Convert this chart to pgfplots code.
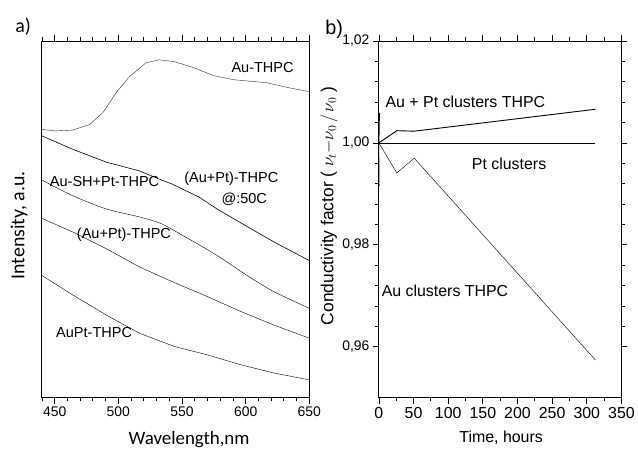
\documentclass[border=0pt]{standalone}
\usepackage{fontspec}
\setmainfont{Liberation Sans}
\newfontfamily\calib{Carlito}
\usepackage{pgfplots}
\pgfplotsset{compat=1.18}
\begin{document}
\begin{tikzpicture}
\draw[white] (0pt,0pt) rectangle (638pt,453pt);
% ---------------- left panel ----------------
\begin{axis}[scale only axis, anchor=south west, at={(42pt,53pt)}, width=269pt, height=359pt,
  xmin=440, xmax=650, ymin=0, ymax=359,
  xtick={450,500,...,650}, minor xtick={440,450,...,650}, ytick=\empty,
  tick pos=both, tick align=outside,
  major tick length=6pt, minor tick length=3.5pt,
  axis line style={line width=0.9pt},
  tick style={line width=0.8pt, black},
  /pgf/number format/assume math mode=true, clip=false,
  x tick label style={font=\fontsize{14}{14}\selectfont},
  cycle list={{black!80, line width=0.6pt, smooth, tension=0.55, mark=none}}]
\addplot coordinates {(440,270) (450.1,268.5) (464.2,269.3) (477.5,275) (487.9,287) (498.3,307) (508.7,323) (521.7,337) (532.1,340) (543.8,338.3) (559.4,332) (567.2,328) (575.0,324) (590.7,320) (616.4,317) (633.6,312) (650,308)};
\addplot coordinates {(440,263.5) (464.2,250) (490.7,237) (516.5,228.3) (532.1,220) (542.3,215) (563.3,202) (577.4,190) (599.8,173.3) (621.9,157) (650,138)};
\addplot coordinates {(440,219) (464.2,203.3) (490.5,190) (516.5,182) (532.1,176) (543.8,168.3) (577.4,143.3) (600.8,123.3) (621.9,107) (650,90)};
\addplot coordinates {(440,180.5) (464.4,166.7) (490.5,150) (516.5,131.7) (543.8,116) (569.6,102) (595.9,87) (621.9,73.3) (650,60)};
\addplot coordinates {(440,123) (464.4,103.3) (490.5,83.3) (516.5,65) (543.8,51.7) (569.6,43.3) (595.9,33.3) (621.9,25) (650,18)};
\begin{scope}[every node/.style={font=\fontsize{14.6}{15}\selectfont, inner sep=0pt}]
\node at (axis cs:613.3,332) {Au-THPC};
\node at (axis cs:489.2,218) {Au-SH+Pt-THPC};
\node at (axis cs:588.7,220) {(Au+Pt)-THPC};
\node at (axis cs:598.9,200) {@:50C};
\node at (axis cs:504.4,164) {(Au+Pt)-THPC};
\node at (axis cs:481,65.7) {AuPt-THPC};
\end{scope}
\end{axis}
% ---------------- right panel ----------------
\begin{axis}[scale only axis, anchor=south west, at={(381pt,53pt)}, width=244pt, height=359pt,
  xmin=0, xmax=350, ymin=0.95, ymax=1.02,
  xtick={0,50,...,350}, minor x tick num=1,
  ytick={0.96,0.98,1.00,1.02}, minor y tick num=4,
  tick pos=both, tick align=outside,
  major tick length=6pt, minor tick length=3.5pt,
  axis line style={line width=0.9pt},
  tick style={line width=0.8pt, black},
  /pgf/number format/assume math mode=true, clip=false,
  x tick label style={font=\fontsize{16}{16}\selectfont},
  y tick label style={font=\fontsize{14}{14}\selectfont, /pgf/number format/.cd, fixed, fixed zerofill, precision=2, use comma},
  cycle list={{black, line width=0.9pt, mark=none}}]
\addplot coordinates {(0,1.0) (312,1.0)};
\addplot coordinates {(0.8,1.0059) (0,1.0) (25.8,1.0024) (51,1.0023) (312.5,1.0066)};
\addplot coordinates {(0.6,0.9915) (0,1.0) (25.8,0.9941) (51,0.9970) (312.5,0.9574)};
\begin{scope}[every node/.style={font=\fontsize{16}{16}\selectfont, inner sep=0pt}]
\node at (axis cs:124.8,1.0080) {Au + Pt clusters THPC};
\node at (axis cs:187.9,0.9959) {Pt clusters};
\node at (axis cs:95.4,0.9709) {Au clusters THPC};
\end{scope}
\end{axis}
% ---------------- labels ----------------
\node[anchor=base west, font=\calib\fontsize{20}{20}\selectfont, inner sep=0pt] at (15pt,420pt) {a)};
\node[anchor=base west, font=\fontsize{20}{20}\selectfont, inner sep=0pt] at (327pt,418pt) {b)};
\node[rotate=90, font=\calib\fontsize{20}{20}\selectfont, inner sep=0pt] at (19pt,226.5pt) {Intensity, a.u.};
\node[anchor=base, font=\calib\fontsize{19}{19}\selectfont, inner sep=0pt] at (190pt,6pt) {Wavelength,nm};
\node[anchor=base, font=\fontsize{16}{16}\selectfont, inner sep=0pt] at (504pt,8pt) {Time, hours};
\node[rotate=90, font=\fontsize{17.5}{17.5}\selectfont] at (331pt,246pt) {Conductivity factor ( $\nu_t{-}\nu_0\,/\,\nu_0$ )};
\end{tikzpicture}
\end{document}
